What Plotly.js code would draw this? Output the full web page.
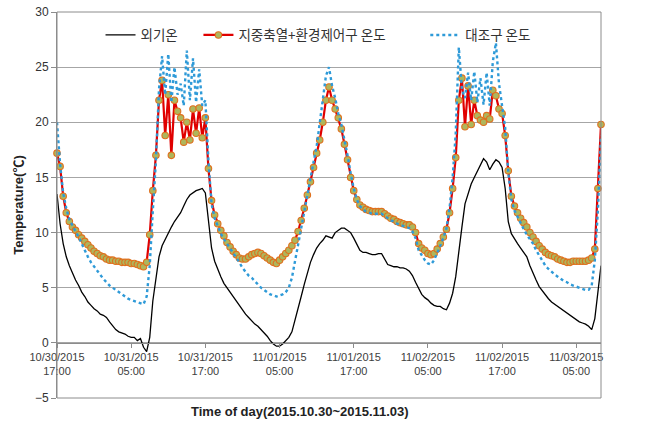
<!DOCTYPE html>
<html><head><meta charset="utf-8">
<script src="https://cdn.plot.ly/plotly-3.0.1.min.js"></script>
<style>html,body{margin:0;padding:0;background:#fff}#chart{width:654px;height:428px}</style>
</head><body><div id="chart"></div>
<script>
// hours since 10/30/2015 17:00, 30-min steps
const stepHours = 0.5;

const outdoorTemp = [
  13.5,10.8,9.0,7.8,7.0,6.3,5.7,5.2,4.6,4.2,3.7,3.4,3.1,2.9,2.6,2.5,2.3,1.9,1.5,1.2,1.0,0.9,0.8,0.6,
  0.5,0.5,0.2,0.4,-0.4,-0.8,0.5,3.8,6.0,7.8,8.8,9.4,9.9,10.5,11.0,11.4,11.8,12.4,13.0,13.4,13.6,13.8,13.9,14.0,
  13.6,11.0,8.6,7.4,6.6,6.0,5.4,5.0,4.5,4.1,3.7,3.3,2.9,2.6,2.3,2.0,1.7,1.5,1.2,0.9,0.6,0.2,-0.1,-0.3,
  -0.3,-0.1,0.2,0.5,1.0,2.0,3.0,4.2,5.3,6.4,7.3,8.0,8.6,9.0,9.3,9.7,9.6,9.5,10.0,10.2,10.4,10.4,10.2,10.0,
  9.5,8.9,8.4,8.2,8.2,8.1,8.0,8.0,8.1,8.1,7.6,7.1,7.0,6.9,6.9,6.8,6.8,6.7,6.5,6.1,5.5,4.9,4.4,4.1,
  3.9,3.6,3.4,3.3,3.3,3.1,3.0,3.6,4.5,6.0,8.5,10.5,12.6,13.6,14.4,15.0,15.6,16.2,16.7,16.4,15.7,16.2,16.6,16.4,
  15.9,14.0,11.0,9.9,9.4,9.0,8.6,8.2,7.8,7.0,6.3,5.7,5.1,4.7,4.3,4.0,3.7,3.5,3.3,3.1,2.9,2.7,2.5,2.3,
  2.1,1.9,1.8,1.7,1.5,1.2,2.2,4.6,7.0
];

const storageTemp = [
  17.2,16.0,13.3,11.8,11.0,10.5,10.2,9.8,9.5,9.2,8.9,8.6,8.3,8.1,7.9,7.8,7.6,7.5,7.5,7.4,7.4,7.3,7.3,7.3,
  7.2,7.2,7.1,7.0,6.9,7.3,9.8,13.8,17.0,22.0,23.8,18.8,22.5,17.0,22.0,21.0,20.4,18.2,20.0,18.4,21.2,19.0,21.3,18.6,
  20.4,15.8,12.9,11.6,10.8,10.2,9.7,9.1,8.7,8.3,8.0,7.7,7.6,7.6,7.8,8.0,8.1,8.2,8.1,7.9,7.7,7.5,7.3,7.2,
  7.5,7.8,8.1,8.4,8.8,9.3,10.1,11.1,12.2,13.4,14.6,15.9,17.2,18.4,20.0,22.0,23.2,22.0,21.2,20.4,19.4,18.0,16.6,15.0,
  13.8,13.0,12.5,12.3,12.1,12.0,11.9,11.9,11.9,11.9,11.7,11.5,11.3,11.2,11.0,10.9,10.8,10.7,10.7,10.5,10.0,9.0,8.6,8.4,
  8.1,8.0,8.1,8.5,9.0,9.6,10.3,11.8,14.0,16.8,22.0,24.0,19.6,23.3,19.8,22.0,20.6,20.2,20.0,20.6,20.3,22.9,22.4,21.2,
  20.8,18.8,15.6,13.3,12.4,11.8,11.3,10.9,10.5,10.0,9.6,9.2,8.8,8.5,8.2,8.0,7.9,7.8,7.6,7.5,7.4,7.3,7.3,7.4,
  7.4,7.4,7.4,7.4,7.5,7.7,8.5,14.0,19.8
];

const controlTemp = [
  20.0,16.2,13.6,12.2,11.2,10.6,10.1,9.6,9.0,8.3,7.8,7.3,6.9,6.5,6.1,5.8,5.5,5.2,5.0,4.8,4.6,4.4,4.2,4.0,
  3.9,3.8,3.7,3.6,3.5,4.2,7.0,12.0,16.5,23.0,26.0,22.5,26.2,21.8,25.0,22.5,23.5,21.5,26.5,22.0,25.8,21.8,24.8,21.5,
  22.0,16.5,12.6,11.3,10.5,9.9,9.4,9.0,8.5,8.1,7.7,7.3,6.8,6.4,6.1,5.9,5.6,5.3,5.0,4.8,4.6,4.4,4.3,4.2,
  4.3,4.4,4.6,5.0,5.9,7.4,8.9,10.5,12.1,13.6,15.2,16.4,17.8,20.0,22.0,24.2,25.0,23.3,22.2,20.8,19.8,18.5,17.0,15.4,
  14.0,13.0,12.4,12.1,11.9,11.8,11.7,11.7,11.7,11.7,11.5,11.3,11.1,11.0,10.8,10.7,10.6,10.5,10.4,10.1,9.5,8.4,7.9,7.5,
  7.2,7.1,7.5,8.1,8.8,9.5,10.4,12.2,15.0,19.0,26.8,23.0,22.2,24.5,22.0,24.6,21.8,24.0,21.6,24.5,21.5,25.5,27.2,23.5,
  21.5,19.5,15.5,13.0,12.0,11.4,10.8,10.3,9.8,9.4,9.0,8.4,7.9,7.4,7.0,6.7,6.4,6.2,6.0,5.8,5.6,5.5,5.3,5.2,
  5.1,5.0,4.9,4.8,4.8,5.2,7.5,12.0,18.8
];

const seriesNames = ['외기온', '지중축열+환경제어구 온도', '대조구 온도'];
const tickHours = [0, 12, 24, 36, 48, 60, 72, 84];
const tickLabels = [
  '10/30/2015<br>17:00', '10/31/2015<br>05:00', '10/31/2015<br>17:00', '11/01/2015<br>05:00',
  '11/01/2015<br>17:00', '11/02/2015<br>05:00', '11/02/2015<br>17:00', '11/03/2015<br>05:00'
];

const hours = outdoorTemp.map((_, i) => i * stepHours);

const latin = 'Liberation Sans, Arial, Noto Sans CJK KR, sans-serif';
const korean = 'Noto Sans CJK KR, Liberation Sans, sans-serif';

const traces = [
  { x: hours, y: outdoorTemp, name: seriesNames[0], type: 'scatter', mode: 'lines',
    line: { color: '#000000', width: 1.3 }, legend: 'legend' },
  { x: hours, y: storageTemp, name: seriesNames[1], type: 'scatter', mode: 'lines+markers',
    line: { color: '#E00000', width: 2.2 }, cliponaxis: false,
    marker: { symbol: 'circle', size: 6.5, color: '#AEB65C', line: { color: '#E0701E', width: 1.1 } },
    legend: 'legend2' },
  { x: hours, y: controlTemp, name: seriesNames[2], type: 'scatter', mode: 'lines',
    line: { color: '#2E9AD8', width: 2.4, dash: 'dot' }, legend: 'legend3' }
];

const legendBase = { orientation: 'h', yanchor: 'middle', xanchor: 'left', y: 0.94,
  bgcolor: 'rgba(0,0,0,0)', font: { family: korean, size: 13.5, color: '#333333' }, itemwidth: 30 };

const layout = {
  width: 654, height: 428,
  margin: { l: 57, r: 53, t: 12, b: 30, pad: 0 },
  paper_bgcolor: '#ffffff', plot_bgcolor: '#ffffff',
  showlegend: true,
  legend: Object.assign({}, legendBase, { x: 0.08 }),
  legend2: Object.assign({}, legendBase, { x: 0.26 }),
  legend3: Object.assign({}, legendBase, { x: 0.677 }),
  xaxis: {
    range: [0, 88], anchor: 'free', position: 5 / 35,
    tickmode: 'array', tickvals: tickHours, ticktext: tickLabels,
    showgrid: false, zeroline: false, showline: true, linecolor: '#8C8C8C', linewidth: 1,
    ticks: 'outside', ticklen: 4, tickcolor: '#8C8C8C',
    tickfont: { family: latin, size: 11, color: '#404040' }
  },
  yaxis: {
    range: [-5, 30], dtick: 5, tick0: 0,
    showgrid: true, gridcolor: '#A6A6A6', gridwidth: 1, zeroline: false,
    showline: true, linecolor: '#8C8C8C', linewidth: 1,
    ticks: 'outside', ticklen: 5, tickcolor: '#8C8C8C',
    tickfont: { family: latin, size: 12, color: '#333333' },
    title: { text: 'Temperature(℃)', standoff: 8, font: { family: latin, size: 13, color: '#222222', weight: 'bold' } }
  },
  shapes: [
    { type: 'rect', xref: 'paper', yref: 'paper', x0: 0, x1: 1, y0: 0, y1: 1,
      line: { color: '#8C8C8C', width: 1 }, fillcolor: 'rgba(0,0,0,0)', layer: 'above' }
  ],
  annotations: [
    { text: 'Time of day(2015.10.30~2015.11.03)', xref: 'paper', yref: 'paper', x: 0.447, y: -0.036,
      xanchor: 'center', yanchor: 'middle', showarrow: false,
      font: { family: latin, size: 13, color: '#222222', weight: 'bold' } }
  ]
};

Plotly.newPlot('chart', traces, layout, { displayModeBar: false, staticPlot: true });
</script>
</body></html>
